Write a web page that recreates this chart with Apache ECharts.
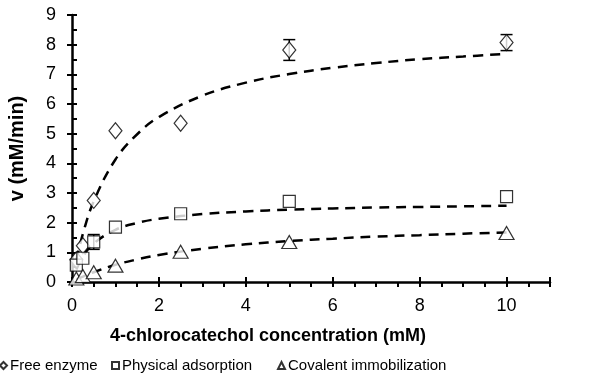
<!DOCTYPE html>
<html>
<head>
<meta charset="utf-8">
<script src="https://cdn.jsdelivr.net/npm/echarts@6/dist/echarts.min.js"></script>
<style>
  html, body { margin: 0; padding: 0; background: #fff; }
  #chart { width: 612px; height: 388px; }
</style>
</head>
<body>
<div id="chart"></div>
<script>
// measured points
const conc = [0.1, 0.25, 0.5, 1, 2.5, 5, 10];
const freeV = [0.75, 1.22, 2.75, 5.1, 5.35, 7.82, 8.07];
const freeErr = [0, 0, 0, 0, 0, 0.35, 0.27];
const physV = [0.57, 0.8, 1.35, 1.85, 2.3, 2.72, 2.88];
const physErr = [0, 0, 0.25, 0, 0, 0, 0];
const covV = [0.12, 0.2, 0.33, 0.55, 1.02, 1.35, 1.65];

// dashed fit curves
const fitX = [0.1, 0.25, 0.5, 1, 1.5, 2, 3, 4, 5, 6, 7, 8, 9, 10];
const freeFit = [0.73, 1.62, 2.72, 4.13, 4.98, 5.56, 6.28, 6.72, 7.01, 7.22, 7.38, 7.51, 7.6, 7.69];
const physFit = [0.42, 0.86, 1.3, 1.76, 1.99, 2.13, 2.29, 2.38, 2.44, 2.48, 2.51, 2.53, 2.55, 2.57];
const covFit = [0.08, 0.18, 0.33, 0.58, 0.76, 0.91, 1.12, 1.27, 1.38, 1.46, 1.53, 1.58, 1.63, 1.67];

const seriesNames = ['Free enzyme', 'Physical adsorption', 'Covalent immobilization'];

const font = 'Liberation Sans, Arial, sans-serif';

function pts(xs, ys) {
    return xs.map((x, i) => [x, ys[i]]);
}
function errPts(ys, errs) {
    let out = [];
    conc.forEach((x, i) => {
        if (errs[i] > 0) out.push([x, ys[i], errs[i]]);
    });
    return out;
}

function renderErr(params, api) {
    const x = api.value(0), y = api.value(1), e = api.value(2);
    const top = api.coord([x, y + e]);
    const bot = api.coord([x, y - e]);
    const w = 6;
    const st = { stroke: '#000', lineWidth: 1.5 };
    return {
        type: 'group',
        children: [
            { type: 'line', shape: { x1: top[0], y1: top[1], x2: bot[0], y2: bot[1] }, style: st },
            { type: 'line', shape: { x1: top[0] - w, y1: top[1], x2: top[0] + w, y2: top[1] }, style: st },
            { type: 'line', shape: { x1: bot[0] - w, y1: bot[1], x2: bot[0] + w, y2: bot[1] }, style: st }
        ]
    };
}

const dash = { color: '#000', width: 2.5, type: [10, 7] };
const marker = { color: '#fff', borderColor: '#000', borderWidth: 1.2 };

function fitLine(name, ys) {
    return {
        name: name, type: 'line', data: pts(fitX, ys), smooth: 0.4,
        symbol: 'none', lineStyle: dash, z: 2, silent: true
    };
}
function errSeries(name, ys, errs) {
    return {
        name: name, type: 'custom', renderItem: renderErr,
        data: errPts(ys, errs), z: 3, silent: true
    };
}

const legendBase = {
    orient: 'horizontal', top: 353, itemWidth: 7, itemHeight: 7, itemGap: 4,
    textStyle: { fontFamily: font, fontSize: 15, color: '#000', padding: [0, 0, 0, -2] }
};

const axisLab = { fontFamily: font, fontSize: 18, color: '#000' };
const tickLine = { color: '#000', width: 2 };
const gridBox = { left: 72, right: 62, top: 15, bottom: 106, outerBoundsMode: 'none', containLabel: false };

const option = {
    animation: false,
    backgroundColor: '#fff',
    title: {
        text: '4-chlorocatechol concentration (mM)',
        left: 105, top: 322,
        textStyle: { fontFamily: font, fontSize: 18, fontWeight: 'bold', color: '#000' }
    },
    legend: [
        Object.assign({}, legendBase, { left: -6, data: [seriesNames[0]] }),
        Object.assign({}, legendBase, { left: 106, data: [seriesNames[1]] }),
        Object.assign({}, legendBase, { left: 272, data: [seriesNames[2]] })
    ],
    grid: [Object.assign({}, gridBox), Object.assign({}, gridBox)],
    xAxis: [{
        type: 'value', gridIndex: 0, min: 0, max: 11, interval: 2,
        axisLine: { show: true, lineStyle: { color: '#000', width: 2.5 } },
        axisTick: { show: true, inside: false, length: 5, lineStyle: tickLine },
        minorTick: { show: true, splitNumber: 4, length: 5, lineStyle: tickLine },
        splitLine: { show: false },
        axisLabel: Object.assign({ margin: 15, showMaxLabel: false }, axisLab)
    }, {
        type: 'value', gridIndex: 1, min: 0, max: 11, interval: 2,
        axisLine: { show: false },
        axisTick: { show: true, inside: true, length: 5, lineStyle: tickLine },
        splitLine: { show: false },
        axisLabel: { show: false }
    }],
    yAxis: [{
        type: 'value', gridIndex: 0, min: 0, max: 9, interval: 1,
        name: 'v (mM/min)', nameLocation: 'middle', nameGap: 45,
        nameTextStyle: { fontFamily: font, fontSize: 20, fontWeight: 'bold', color: '#000' },
        axisLine: { show: true, lineStyle: { color: '#000', width: 2.5 } },
        axisTick: { show: true, inside: false, length: 5, lineStyle: tickLine },
        splitLine: { show: false },
        axisLabel: Object.assign({ margin: 16 }, axisLab)
    }, {
        type: 'value', gridIndex: 1, min: 0, max: 9, interval: 1,
        axisLine: { show: false },
        axisTick: { show: true, inside: true, length: 5, lineStyle: tickLine },
        minorTick: { show: true, splitNumber: 2, length: 5, lineStyle: tickLine },
        splitLine: { show: false },
        axisLabel: { show: false }
    }],
    series: [
        fitLine('fit free', freeFit),
        fitLine('fit phys', physFit),
        fitLine('fit cov', covFit),
        errSeries('err free', freeV, freeErr),
        errSeries('err phys', physV, physErr),
        {
            name: seriesNames[0], type: 'scatter', data: pts(conc, freeV),
            symbol: 'diamond', symbolSize: [13, 16], itemStyle: marker, z: 5
        },
        {
            name: seriesNames[1], type: 'scatter', data: pts(conc, physV),
            symbol: 'rect', symbolSize: 12, itemStyle: marker, z: 5
        },
        {
            name: seriesNames[2], type: 'scatter', data: pts(conc, covV),
            symbol: 'triangle', symbolSize: [15, 13], itemStyle: marker, z: 5
        }
    ]
};

const myChart = echarts.init(document.getElementById('chart'));
myChart.setOption(option);
</script>
</body>
</html>
